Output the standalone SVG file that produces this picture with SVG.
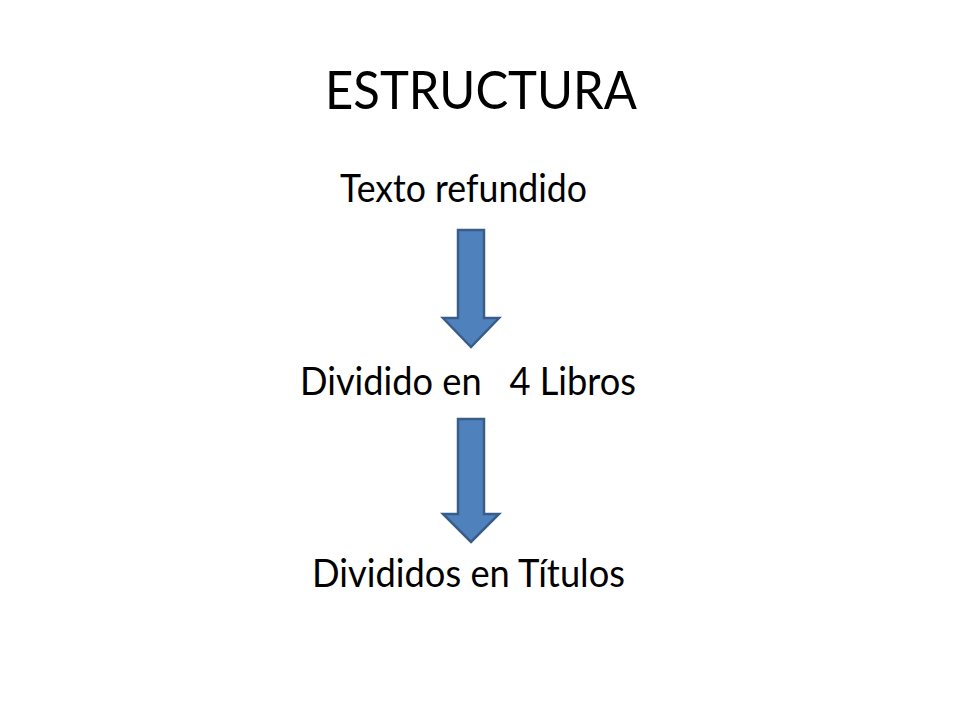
<svg xmlns="http://www.w3.org/2000/svg" width="960" height="720" viewBox="0 0 960 720">
<style>
text{font-family:Lato,"Open Sans","Liberation Sans",sans-serif;fill:#000;}
.title{font-size:53px;}
.lbl{font-size:39px;}
.arrow{fill:#4F81BD;stroke:#385D8A;stroke-width:2.5;stroke-linejoin:miter;}
</style>
<rect width="960" height="720" fill="#fff"/>
<g id="title"><text class="title" x="325" y="109" textLength="312" lengthAdjust="spacingAndGlyphs">ESTRUCTURA</text></g>
<g id="node-texto"><text class="lbl" x="340" y="202" textLength="247" lengthAdjust="spacingAndGlyphs">Texto refundido</text></g>
<g id="node-libros"><text class="lbl" x="300" y="395" textLength="336" lengthAdjust="spacingAndGlyphs" xml:space="preserve">Dividido en   4 Libros</text></g>
<g id="node-titulos"><text class="lbl" x="312" y="587" textLength="313" lengthAdjust="spacingAndGlyphs">Divididos en Títulos</text></g>
<g id="connectors">
<path class="arrow" d="M458,230 L484,230 L484,318 L499,318 L471,347 L443,318 L458,318 Z"/>
<path class="arrow" d="M458,419 L484,419 L484,514 L499,514 L471,542 L443,514 L458,514 Z"/>
</g>
</svg>
